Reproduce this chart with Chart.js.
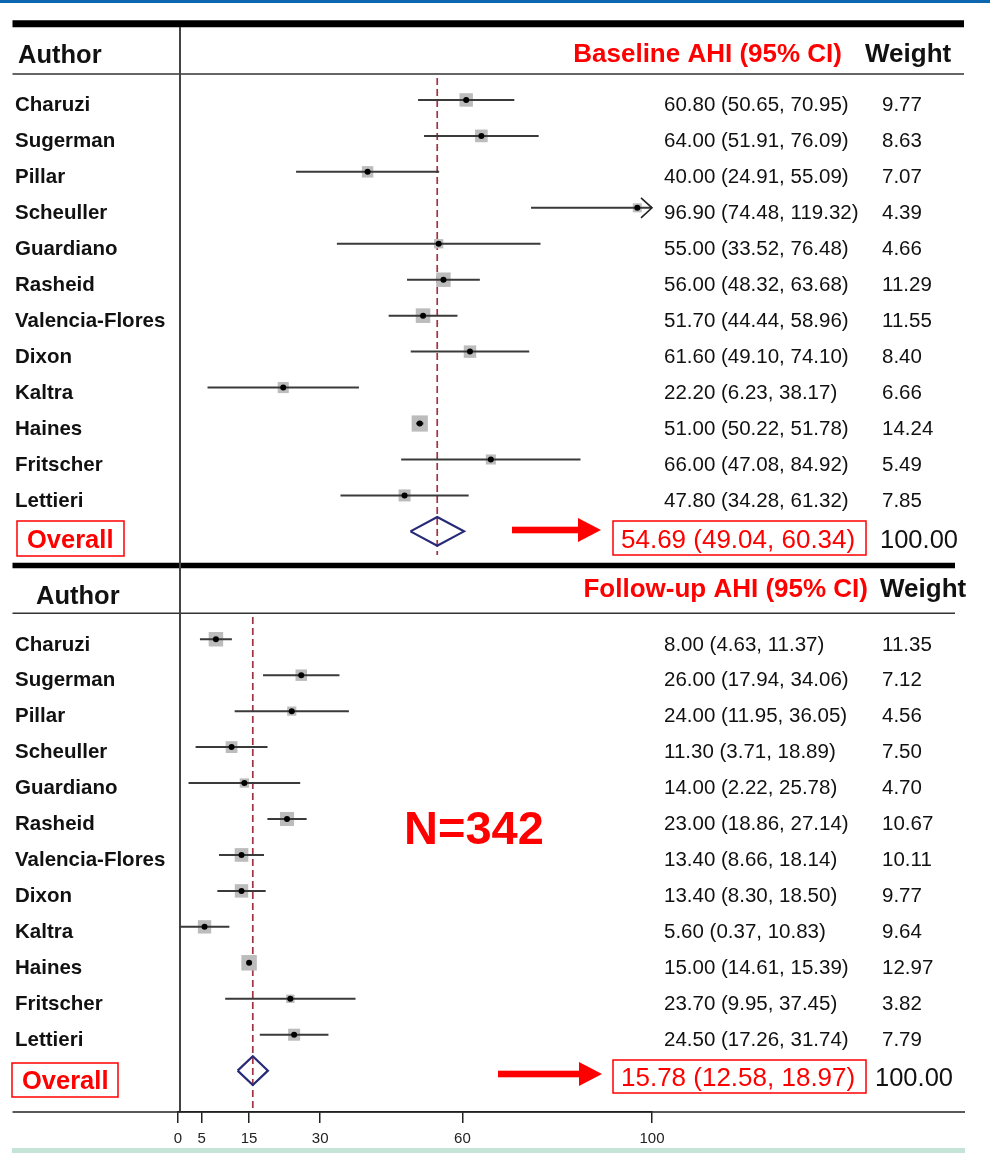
<!DOCTYPE html>
<html>
<head>
<meta charset="utf-8">
<script src="https://cdn.jsdelivr.net/npm/chart.js@4"></script>
<style>
  html, body { margin: 0; padding: 0; background: #fff; }
  canvas { display: block; }
</style>
</head>
<body>
<canvas id="forest" width="990" height="1153"></canvas>
<script>
// study names (same order in both panels)
const authors = ['Charuzi', 'Sugerman', 'Pillar', 'Scheuller', 'Guardiano', 'Rasheid',
  'Valencia-Flores', 'Dixon', 'Kaltra', 'Haines', 'Fritscher', 'Lettieri'];

// baseline AHI
const baseEst = [60.80, 64.00, 40.00, 96.90, 55.00, 56.00, 51.70, 61.60, 22.20, 51.00, 66.00, 47.80];
const baseLo = [50.65, 51.91, 24.91, 74.48, 33.52, 48.32, 44.44, 49.10, 6.23, 50.22, 47.08, 34.28];
const baseHi = [70.95, 76.09, 55.09, 119.32, 76.48, 63.68, 58.96, 74.10, 38.17, 51.78, 84.92, 61.32];
const baseWeight = [9.77, 8.63, 7.07, 4.39, 4.66, 11.29, 11.55, 8.40, 6.66, 14.24, 5.49, 7.85];
const baseOverall = [54.69, 49.04, 60.34];

// follow-up AHI
const followEst = [8.00, 26.00, 24.00, 11.30, 14.00, 23.00, 13.40, 13.40, 5.60, 15.00, 23.70, 24.50];
const followLo = [4.63, 17.94, 11.95, 3.71, 2.22, 18.86, 8.66, 8.30, 0.37, 14.61, 9.95, 17.26];
const followHi = [11.37, 34.06, 36.05, 18.89, 25.78, 27.14, 18.14, 18.50, 10.83, 15.39, 37.45, 31.74];
const followWeight = [11.35, 7.12, 4.56, 7.50, 4.70, 10.67, 10.11, 9.77, 9.64, 12.97, 3.82, 7.79];
const followOverall = [15.78, 12.58, 18.97];

const xTicks = [0, 5, 15, 30, 60, 100];
const sampleLabel = 'N=342';

const FONT = '"Liberation Sans", Arial, Helvetica, sans-serif';
const RED = '#ff0000';

const panels = [
  { title: 'Baseline AHI (95% CI)', est: baseEst, lo: baseLo, hi: baseHi, weight: baseWeight, overall: baseOverall, offset: 0 },
  { title: 'Follow-up AHI (95% CI)', est: followEst, lo: followLo, hi: followHi, weight: followWeight, overall: followOverall, offset: 15 }
];

// pixel layout for each panel
const looks = [
  { authorX: 18, authorY: 63.3, titleRight: 842, titleY: 61.7, weightX: 865, weightY: 62,
    ruleY: 23.7, ruleW: 7, ruleEnd: 964, thinY: 74, thinEnd: 964,
    overallBox: [17, 521, 107, 35], overallY: 547.7,
    estBox: [613, 521, 253, 34], estX: 621, estY: 547.7, totalX: 880, totalY: 547.7,
    arrow: [512, 601, 530], dash: [-0.61, 12.66] },
  { authorX: 36, authorY: 604, titleRight: 868, titleY: 596.7, weightX: 880, weightY: 597,
    ruleY: 565.5, ruleW: 5.6, ruleEnd: 955, thinY: 613.3, thinEnd: 955,
    overallBox: [12, 1063, 106, 34], overallY: 1089,
    estBox: [613, 1060, 253, 33], estX: 621, estY: 1085.7, totalX: 875, totalY: 1086,
    arrow: [498, 602, 1074], dash: [-0.62, 13.3] }
];

const squares = [], dots = [], ci = [], diamonds = [], dashes = [];
panels.forEach((p, k) => {
  p.est.forEach((v, i) => {
    const y = p.offset + i;
    squares.push({ x: v, y: y, w: p.weight[i] });
    dots.push({ x: v, y: y });
    ci.push({ x: p.lo[i], y: y }, { x: p.hi[i], y: y }, { x: null, y: null });
  });
  const yo = p.offset + 12;
  const [m, lo, hi] = p.overall;
  diamonds.push({ x: lo, y: yo }, { x: m, y: yo - 0.4 }, { x: hi, y: yo }, { x: m, y: yo + 0.4 }, { x: lo, y: yo }, { x: null, y: null });
  dashes.push({ x: m, y: p.offset + looks[k].dash[0] }, { x: m, y: p.offset + looks[k].dash[1] }, { x: null, y: null });
});

function line(ctx, x1, y1, x2, y2, color, width) {
  ctx.beginPath();
  ctx.strokeStyle = color;
  ctx.lineWidth = width;
  ctx.moveTo(x1, y1);
  ctx.lineTo(x2, y2);
  ctx.stroke();
}

function text(ctx, s, x, y, font, color, align) {
  ctx.font = font;
  ctx.fillStyle = color;
  ctx.textAlign = align || 'left';
  ctx.textBaseline = 'alphabetic';
  ctx.fillText(s, x, y);
}

const forestDecor = {
  id: 'forestDecor',
  beforeDatasetsDraw(chart) {
    const ctx = chart.ctx;
    ctx.save();
    ctx.fillStyle = '#0d66b0';
    ctx.fillRect(0, 0, 990, 3);
    ctx.fillStyle = '#c5e4d8';
    ctx.fillRect(12, 1148, 953, 5);
    looks.forEach(l => {
      line(ctx, 12.5, l.ruleY, l.ruleEnd, l.ruleY, '#000', l.ruleW);
      line(ctx, 12.5, l.thinY, l.thinEnd, l.thinY, '#333', 1.4);
    });
    line(ctx, 180, 27, 180, chart.chartArea.bottom, '#444', 2);
    ctx.restore();
  },
  afterDraw(chart) {
    const ctx = chart.ctx;
    const xs = chart.scales.x, ys = chart.scales.y;
    ctx.save();
    // long axis line
    line(ctx, 12.5, chart.chartArea.bottom, 965, chart.chartArea.bottom, '#222', 1.5);

    panels.forEach((p, k) => {
      const l = looks[k];
      text(ctx, 'Author', l.authorX, l.authorY, 'bold 25.5px ' + FONT, '#111');
      text(ctx, p.title, l.titleRight, l.titleY, 'bold 26px ' + FONT, RED, 'right');
      text(ctx, 'Weight', l.weightX, l.weightY, 'bold 26px ' + FONT, '#111');

      authors.forEach((a, i) => {
        const y = ys.getPixelForValue(p.offset + i) + 11.3;
        text(ctx, a, 15, y, 'bold 20.5px ' + FONT, '#111');
        const s = p.est[i].toFixed(2) + ' (' + p.lo[i].toFixed(2) + ', ' + p.hi[i].toFixed(2) + ')';
        text(ctx, s, 664, y, '20.5px ' + FONT, '#111');
        text(ctx, p.weight[i].toFixed(2), 882, y, '20.5px ' + FONT, '#111');

        // open arrow where the interval runs past the axis
        if (p.hi[i] > xs.max) {
          const ax = xs.getPixelForValue(xs.max);
          const ay = ys.getPixelForValue(p.offset + i);
          ctx.beginPath();
          ctx.strokeStyle = '#222';
          ctx.lineWidth = 1.6;
          ctx.moveTo(ax - 11, ay - 10);
          ctx.lineTo(ax, ay);
          ctx.lineTo(ax - 11, ay + 10);
          ctx.stroke();
        }
      });

      // Overall label in red box
      ctx.strokeStyle = RED;
      ctx.lineWidth = 1.5;
      ctx.strokeRect(...l.overallBox);
      text(ctx, 'Overall', l.overallBox[0] + 10, l.overallY, 'bold 25.5px ' + FONT, RED);

      const [m, lo, hi] = p.overall;
      ctx.strokeRect(...l.estBox);
      text(ctx, m.toFixed(2) + ' (' + lo.toFixed(2) + ', ' + hi.toFixed(2) + ')', l.estX, l.estY, '26px ' + FONT, RED);
      text(ctx, '100.00', l.totalX, l.totalY, '25.5px ' + FONT, '#111');

      // red arrow
      const [x0, x1, ay] = l.arrow;
      ctx.fillStyle = RED;
      ctx.fillRect(x0, ay - 3.3, x1 - x0 - 20, 6.6);
      ctx.beginPath();
      ctx.moveTo(x1 - 23, ay - 12);
      ctx.lineTo(x1, ay);
      ctx.lineTo(x1 - 23, ay + 12);
      ctx.closePath();
      ctx.fill();
    });

    text(ctx, sampleLabel, 404, 844, 'bold 47px ' + FONT, RED);
    ctx.restore();
  }
};

new Chart(document.getElementById('forest'), {
  type: 'scatter',
  data: {
    datasets: [
      {
        label: 'weight box', data: squares, order: 4,
        pointStyle: 'rect', backgroundColor: '#bcbcbc', borderWidth: 0,
        pointRadius: c => (c.raw && c.raw.w ? 3.04 * Math.sqrt(c.raw.w) : 0)
      },
      {
        label: 'overall line', type: 'line', data: dashes, order: 5,
        borderColor: '#9e3342', borderWidth: 1.7, borderDash: [7, 4], pointRadius: 0, spanGaps: false
      },
      {
        label: '95% CI', type: 'line', data: ci, order: 3,
        borderColor: '#3a3a3a', borderWidth: 2, pointRadius: 0, spanGaps: false
      },
      {
        label: 'estimate', data: dots, order: 1,
        pointStyle: 'circle', backgroundColor: '#000', borderWidth: 0, pointRadius: 3
      },
      {
        label: 'overall', type: 'line', data: diamonds, order: 0,
        borderColor: '#262a78', borderWidth: 2.2, borderJoinStyle: 'miter', pointRadius: 0, spanGaps: false
      }
    ]
  },
  options: {
    responsive: false,
    animation: false,
    events: [],
    layout: { autoPadding: false, padding: { left: 178, right: 338, top: 0, bottom: 0 } },
    plugins: { legend: { display: false }, tooltip: { enabled: false } },
    scales: {
      x: {
        type: 'linear', min: 0, max: 100,
        afterBuildTicks: s => { s.ticks = xTicks.map(v => ({ value: v })); },
        afterFit: s => { s.height = 41; },
        grid: { drawOnChartArea: false, tickLength: 11, color: '#222', lineWidth: 1.5 },
        border: { display: true, color: '#222', width: 1.5 },
        ticks: { autoSkip: false, maxRotation: 0, padding: 7, color: '#222', font: { family: FONT, size: 15 } }
      },
      y: {
        type: 'linear', display: false, reverse: true, min: -2.78, max: 28.15
      }
    }
  },
  plugins: [forestDecor]
});
</script>
</body>
</html>
